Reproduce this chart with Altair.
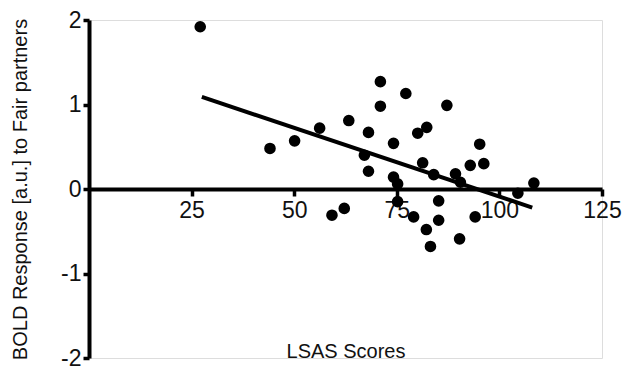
import altair as alt
import pandas as pd

lsas = [27.1, 44.1, 50.1, 56.2, 63.3, 68.1, 71.0, 71.0, 77.2, 87.2, 82.3, 80.1,
        74.2, 95.2, 67.1, 68.1, 81.3, 84.0, 89.3, 92.9, 96.2, 74.2, 75.2, 90.5,
        108.4, 104.5, 75.2, 85.2, 59.2, 62.2, 79.1, 85.2, 94.1, 82.2, 90.3, 83.2]
bold = [1.92, 0.48, 0.57, 0.72, 0.81, 0.67, 1.27, 0.98, 1.13, 0.99, 0.73, 0.66,
        0.54, 0.53, 0.40, 0.21, 0.31, 0.17, 0.18, 0.28, 0.30, 0.14, 0.06, 0.08,
        0.07, -0.05, -0.15, -0.14, -0.31, -0.23, -0.33, -0.37, -0.33, -0.48, -0.59, -0.68]

fit_x = [27.5, 108.0]
fit_y = [1.09, -0.22]

x_ticks = [25, 50, 75, 100, 125]
y_ticks = [-2, -1, 0, 1, 2]

pts = pd.DataFrame({"LSAS": lsas, "BOLD": bold})
fit = pd.DataFrame({"LSAS": fit_x, "BOLD": fit_y})

FONT = "Liberation Sans"

xs = alt.Scale(domain=[0, 125], nice=False, zero=False)
ys = alt.Scale(domain=[-2, 2], nice=False, zero=False)

x_axis = alt.Axis(
    values=x_ticks, offset=-169, grid=False, domainWidth=4, domainColor="black",
    tickWidth=3.5, tickSize=7, tickColor="black", labelFontSize=23, labelFont=FONT,
    labelColor="#111", labelPadding=3, labelFlush=False, labelOverlap=False,
    title="LSAS Scores", titleFont=FONT,
    titleFontSize=20, titleFontWeight="normal", titleColor="#111", titleY=152,
    labelExpr="'' + datum.value",
)
y_axis = alt.Axis(
    values=y_ticks, grid=False, domainWidth=4, domainColor="black",
    tickWidth=3.5, tickSize=6, tickColor="black", labelFontSize=23, labelFont=FONT,
    labelColor="#111", labelPadding=2, labelFlush=False, labelOverlap=False,
    title="BOLD Response [a.u.] to Fair partners",
    titleFont=FONT, titleFontSize=20, titleFontWeight="normal", titleColor="#111",
    titleX=-59, labelExpr="'' + datum.value",
)

points = alt.Chart(pts).mark_circle(size=135, color="black", opacity=1).encode(
    x=alt.X("LSAS:Q", scale=xs, axis=x_axis),
    y=alt.Y("BOLD:Q", scale=ys, axis=y_axis),
)

line = alt.Chart(fit).mark_line(color="black", strokeWidth=4).encode(
    x=alt.X("LSAS:Q", scale=xs),
    y=alt.Y("BOLD:Q", scale=ys),
)

chart = alt.layer(line, points).properties(
    width=513, height=338,
    padding={"left": 81, "top": 12, "right": 24, "bottom": 20},
    autosize=alt.AutoSizeParams(type="none"),
).configure_view(stroke=None).configure(background="white")

chart.save("out.html", embed_options={"renderer": "svg", "actions": False})
